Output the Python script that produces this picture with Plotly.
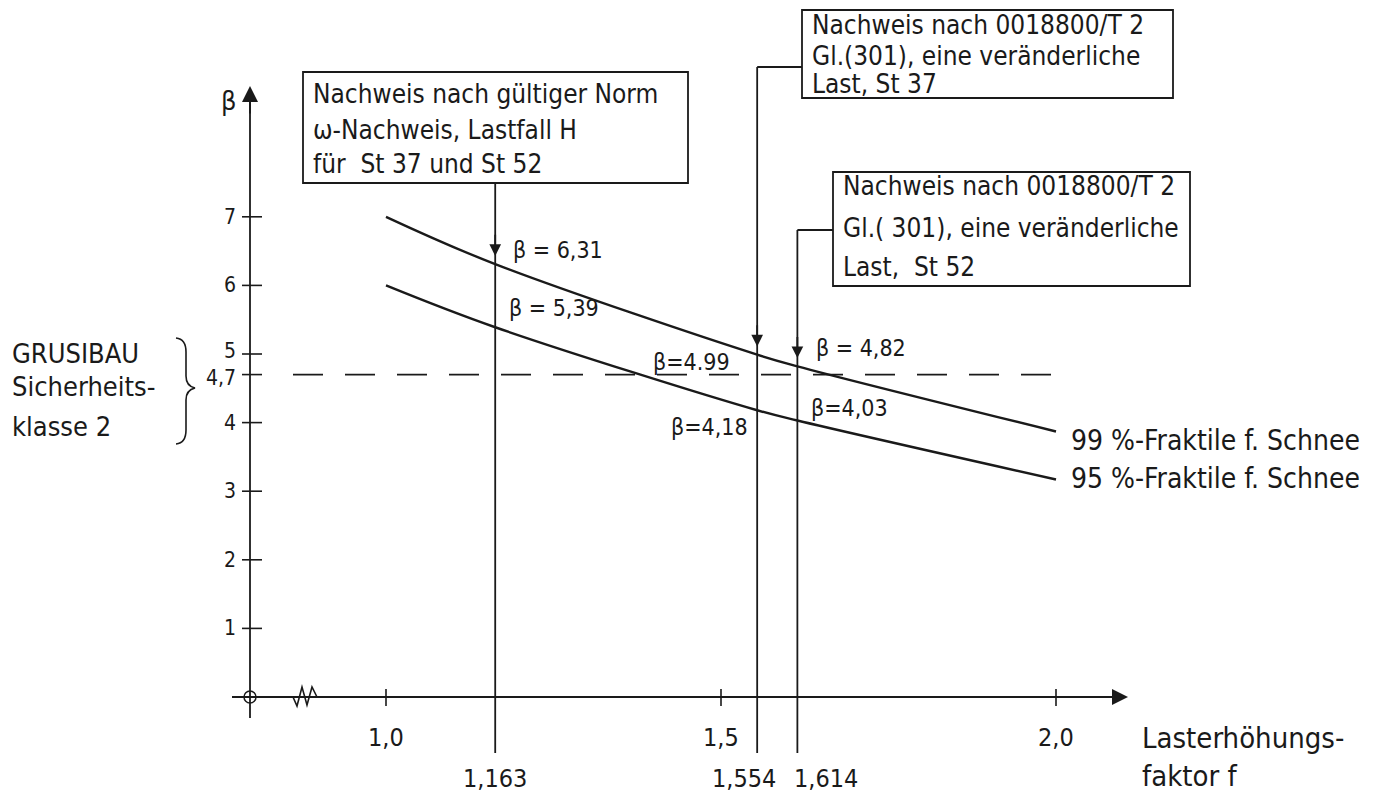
import plotly.graph_objects as go

# ---------------- data ----------------
f_curve = [1.0, 1.163, 1.554, 1.614, 2.0]
beta_99 = [7.00, 6.31, 4.99, 4.82, 3.87]
beta_95 = [6.00, 5.39, 4.18, 4.03, 3.17]
curve_names = ["99 %-Fraktile f. Schnee", "95 %-Fraktile f. Schnee"]

f_checks = [1.163, 1.554, 1.614]
f_check_labels = ["1,163", "1,554", "1,614"]
beta_check_99 = [6.31, 4.99, 4.82]
beta_check_95 = [5.39, 4.18, 4.03]
beta_lbl_99 = ["β = 6,31", "β=4.99", "β = 4,82"]
beta_lbl_95 = ["β = 5,39", "β=4,18", "β=4,03"]

x_ticks = [1.0, 1.5, 2.0]
x_tick_labels = ["1,0", "1,5", "2,0"]
y_ticks = [1, 2, 3, 4, 4.7, 5, 6, 7]
y_tick_labels = ["1", "2", "3", "4", "4,7", "5", "6", "7"]
beta_target = 4.7

box_texts = [
    ["Nachweis nach gültiger Norm", "ω-Nachweis, Lastfall H", "für  St 37 und St 52"],
    ["Nachweis nach 0018800/T 2", "Gl.(301), eine veränderliche", "Last, St 37"],
    ["Nachweis nach 0018800/T 2", "Gl.( 301), eine veränderliche", "Last,  St 52"],
]
class_text = ["GRUSIBAU", "Sicherheits-", "klasse 2"]
x_title = ["Lasterhöhungs-", "faktor f"]
y_title = "β"

# ---------------- layout helpers (page pixel <-> axis) ----------------
W, H = 1389, 797
BODY = 8                  # default page margin around the figure
PX0, PXS = 386.0, 670.0   # page pixel of f=1.0, pixels per unit f
PY0, PYS = 697.0, 68.6    # page pixel of beta=0, pixels per unit beta


def fx(px):
    return 1.0 + (px - PX0) / PXS


def fy(py):
    return (PY0 - py) / PYS


def dxp(d):
    return d / PXS


def dyp(d):
    return -d / PYS


INK = "#1a1a1a"
FONT = "DejaVu Sans Condensed, Liberation Sans Narrow, Roboto Condensed, DejaVu Sans, sans-serif"

fig = go.Figure()

# curves
for ys in (beta_99, beta_95):
    fig.add_trace(go.Scatter(x=f_curve, y=ys, mode="lines",
                             line=dict(color=INK, width=2.4, shape="spline", smoothing=1.0),
                             hoverinfo="skip", showlegend=False))

shapes = []
ann = []


def line(x0, y0, x1, y1, w=1.8, dash=None):
    d = dict(type="line", xref="x", yref="y", x0=x0, y0=y0, x1=x1, y1=y1,
             line=dict(color=INK, width=w))
    if dash:
        d["line"]["dash"] = dash
    shapes.append(d)


def text(x, y, s, xanchor="left", size=22, yanchor="middle"):
    ann.append(dict(x=x, y=y, xref="x", yref="y", text=s, showarrow=False,
                    xanchor=xanchor, yanchor=yanchor,
                    font=dict(family=FONT, size=size, color=INK)))


def arrow(xt, yt, xs, ys, size=1.6, width=2):
    ann.append(dict(x=xt, y=yt, ax=xs, ay=ys, xref="x", yref="y", axref="x", ayref="y",
                    showarrow=True, arrowhead=2, arrowsize=size, arrowwidth=width,
                    arrowcolor=INK, text=""))


# axes
line(fx(232), 0, fx(1104), 0, w=1.8)
arrow(fx(1128), 0, fx(1100), 0)
y_axis_x = fx(250)
line(y_axis_x, fy(718), y_axis_x, fy(112), w=1.8)
arrow(y_axis_x, fy(86), y_axis_x, fy(115))
# origin circle
shapes.append(dict(type="circle", xref="x", yref="y", x0=fx(244), x1=fx(256), y0=fy(691), y1=fy(703),
                   line=dict(color=INK, width=1.5)))
# axis break
zz = [(293, 697), (297, 706), (302, 687), (307, 705), (312, 687), (317, 697)]
path = "M " + " L ".join(f"{fx(a)},{fy(b)}" for a, b in zz)
shapes.append(dict(type="path", xref="x", yref="y", path=path, line=dict(color=INK, width=1.6)))

# x ticks
for xv, lab in zip(x_ticks, x_tick_labels):
    line(xv, dyp(-8), xv, dyp(9), w=1.6)
    text(xv, fy(737), lab, xanchor="center", size=25)
# y ticks (small vertical nudges for the two crowded labels)
y_nudge = {4.7: 3, 5: -3}
for yv, lab in zip(y_ticks, y_tick_labels):
    line(fx(242), yv, fx(262), yv, w=1.6)
    text(fx(238), yv + dyp(y_nudge.get(yv, 0)), lab, xanchor="right", size=21)

# target line
line(fx(293), beta_target, fx(1052), beta_target, w=1.6, dash="30px,22px")

# verticals for the checks, connectors, arrows
tops = [183, 67, 230]
lab_pos = [(0, "center"), (21, "right"), (-5, "left")]
for f, lab, top, b, (ox, anc) in zip(f_checks, f_check_labels, tops, beta_check_99, lab_pos):
    line(f, fy(753), f, fy(top), w=1.8)
    text(f + dxp(ox), fy(778), lab, xanchor=anc, size=25)
    arrow(f, b + 0.12, f, b + 0.45, size=1.3, width=1.8)
line(f_checks[1], fy(67), fx(802), fy(67))
line(f_checks[2], fy(230), fx(833), fy(230))

# beta labels (offsets in pixels from the marked point)
off99 = [(16, -14, "left"), (-25, 7, "right"), (17, -18, "left")]
off95 = [(12, -19, "left"), (-7, 17, "right"), (12, -13, "left")]
for f, b, s, (ox, oy, anc) in zip(f_checks, beta_check_99, beta_lbl_99, off99):
    text(f + dxp(ox), b + dyp(oy), s, xanchor=anc, size=23)
for f, b, s, (ox, oy, anc) in zip(f_checks, beta_check_95, beta_lbl_95, off95):
    text(f + dxp(ox), b + dyp(oy), s, xanchor=anc, size=23)

# boxes
rects = [(303, 72, 688, 183), (802, 10, 1173, 98), (833, 172, 1190, 286)]
line_ys = [(94, 130, 164), (25, 56, 84), (186, 228, 267)]
for (x0, y0, x1, y1), lines, ys in zip(rects, box_texts, line_ys):
    shapes.append(dict(type="rect", xref="x", yref="y", x0=fx(x0), x1=fx(x1), y0=fy(y0), y1=fy(y1),
                       line=dict(color=INK, width=1.8), fillcolor="rgba(0,0,0,0)"))
    for s, yy in zip(lines, ys):
        text(fx(x0 + 8), fy(yy), s, size=26)

# curve names
text(f_curve[-1] + dxp(13), beta_99[-1] + dyp(9), curve_names[0], size=28)
text(f_curve[-1] + dxp(13), beta_95[-1] + dyp(-1), curve_names[1], size=28)

# axis titles
text(fx(1140), fy(738), x_title[0], size=29)
text(fx(1140), fy(776), x_title[1], size=29)
text(fx(229), fy(100), y_title, xanchor="center", size=27)

# safety class text and brace
for s, yy in zip(class_text, (353, 386, 426)):
    text(fx(10), fy(yy), s, size=27)
bpath = (f"M {fx(176)},{fy(338)} Q {fx(186)},{fy(339)} {fx(186)},{fy(352)} L {fx(186)},{fy(376)} "
         f"Q {fx(186)},{fy(386)} {fx(195)},{fy(388)} Q {fx(186)},{fy(390)} {fx(186)},{fy(400)} "
         f"L {fx(186)},{fy(430)} Q {fx(186)},{fy(443)} {fx(176)},{fy(444)}")
shapes.append(dict(type="path", xref="x", yref="y", path=bpath, line=dict(color=INK, width=1.6)))

fig.update_layout(
    width=W, height=H, margin=dict(l=0, r=0, t=0, b=0),
    paper_bgcolor="white", plot_bgcolor="white",
    xaxis=dict(range=[fx(BODY), fx(W + BODY)], visible=False, fixedrange=True),
    yaxis=dict(range=[fy(H + BODY), fy(BODY)], visible=False, fixedrange=True),
    shapes=shapes, annotations=ann, showlegend=False,
)
fig.write_html("out.html")
